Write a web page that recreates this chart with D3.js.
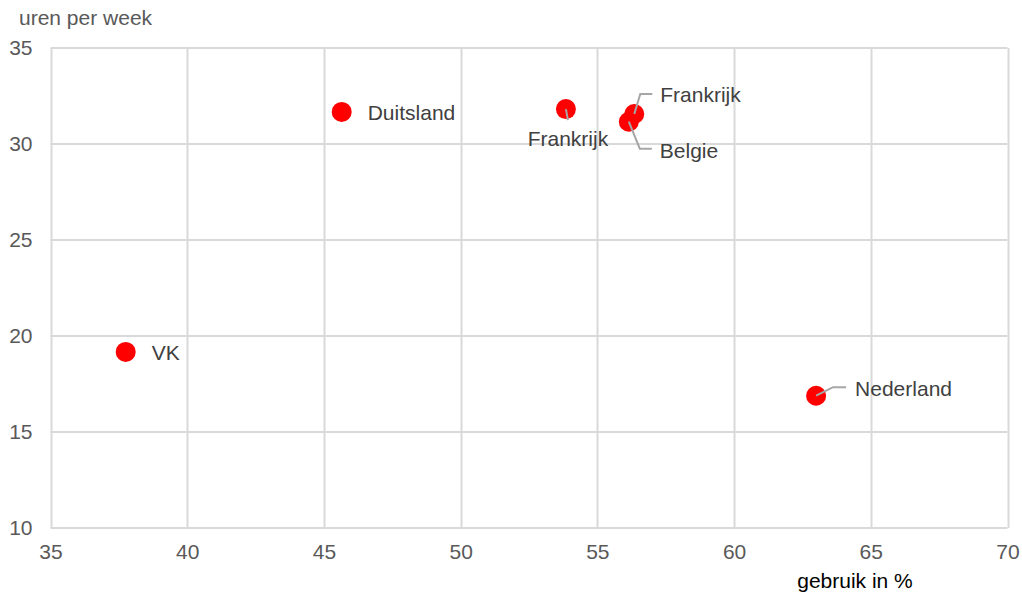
<!DOCTYPE html>
<html>
<head>
<meta charset="utf-8">
<script src="https://cdn.jsdelivr.net/npm/d3@7"></script>
<style>
  html, body { margin: 0; padding: 0; background: #fff; }
  svg { display: block; font-family: "Liberation Sans", Arial, sans-serif; }
</style>
</head>
<body>
<svg id="chart" width="1022" height="592"></svg>
<script>
// ---- data ----
const countries = ["VK", "Duitsland", "Frankrijk", "Frankrijk", "Belgie", "Nederland"];
const usagePct   = [37.75, 45.65, 53.85, 56.35, 56.15, 63.0];
const hoursWeek  = [19.17, 31.67, 31.82, 31.56, 31.16, 16.89];
const xTicks = [35, 40, 45, 50, 55, 60, 65, 70];
const yTicks = [10, 15, 20, 25, 30, 35];
const xTitle = "gebruik in %";
const yTitle = "uren per week";

// ---- label layout (pixel offsets from point: leader path points + text anchor) ----
const labelLayout = [
  { leader: null, tx: 26, ty: 1, anchor: "start" },
  { leader: null, tx: 26, ty: 1, anchor: "start" },
  { leader: [[0, 0], [2, 11]], tx: 2, ty: 30, anchor: "middle" },
  { leader: [[0, 0], [6, -20], [18, -20]], tx: 26, ty: -19, anchor: "start" },
  { leader: [[0, 0], [11, 27], [23, 27]], tx: 31, ty: 29, anchor: "start" },
  { leader: [[0, 0], [17, -8.5], [30, -8.5]], tx: 39, ty: -7, anchor: "start" }
];

const W = 1022, H = 592;
const margin = { left: 50.5, right: 14.5, top: 48, bottom: 64 };
const FS = 21;
const svg = d3.select("#chart");

const x = d3.scaleLinear().domain([35, 70]).range([margin.left, W - margin.right]);
const y = d3.scaleLinear().domain([10, 35]).range([H - margin.bottom, margin.top]);

// gridlines
const grid = svg.append("g");
grid.selectAll("line.v").data(xTicks).join("line")
  .attr("x1", d => Math.round(x(d)) + 0.5).attr("x2", d => Math.round(x(d)) + 0.5)
  .attr("y1", y(10)).attr("y2", y(35))
  .attr("stroke", "#d9d9d9").attr("stroke-width", 2);
grid.selectAll("line.h").data(yTicks).join("line")
  .attr("y1", d => Math.round(y(d))).attr("y2", d => Math.round(y(d)))
  .attr("x1", x(35)).attr("x2", x(70))
  .attr("stroke", "#d9d9d9").attr("stroke-width", 2);

// axes (labels only)
const xAxis = d3.axisBottom(x).tickValues(xTicks).tickSize(0).tickPadding(16);
svg.append("g").attr("transform", `translate(0,${y(10)})`).call(xAxis)
  .call(g => g.select(".domain").remove())
  .call(g => g.selectAll("text").attr("fill", "#595959")
    .attr("font-size", FS).attr("font-family", "Liberation Sans, Arial, sans-serif"));

const yAxis = d3.axisLeft(y).tickValues(yTicks).tickSize(0).tickPadding(18);
svg.append("g").attr("transform", `translate(${x(35)},0)`).call(yAxis)
  .call(g => g.select(".domain").remove())
  .call(g => g.selectAll("text").attr("fill", "#595959")
    .attr("font-size", FS).attr("font-family", "Liberation Sans, Arial, sans-serif"));

// axis titles
svg.append("text").attr("x", 19).attr("y", 25)
  .attr("fill", "#595959").attr("font-size", FS).text(yTitle);
svg.append("text").attr("x", 855).attr("y", 588).attr("text-anchor", "middle")
  .attr("fill", "#000").attr("font-size", FS).text(xTitle);

// points
const data = countries.map((c, i) => ({ name: c, ux: usagePct[i], hy: hoursWeek[i], lay: labelLayout[i] }));

svg.append("g").selectAll("circle").data(data).join("circle")
  .attr("cx", d => x(d.ux)).attr("cy", d => y(d.hy)).attr("r", 10)
  .attr("fill", "#ff0000");

// leader lines
const line = d3.line();
svg.append("g").selectAll("path").data(data.filter(d => d.lay.leader)).join("path")
  .attr("d", d => line(d.lay.leader.map(p => [x(d.ux) + p[0], y(d.hy) + p[1]])))
  .attr("fill", "none").attr("stroke", "#a6a6a6").attr("stroke-width", 2);

// labels
svg.append("g").selectAll("text").data(data).join("text")
  .attr("x", d => x(d.ux) + d.lay.tx).attr("y", d => y(d.hy) + d.lay.ty)
  .attr("dy", "0.35em").attr("text-anchor", d => d.lay.anchor)
  .attr("fill", "#404040").attr("font-size", FS).text(d => d.name);
</script>
</body>
</html>
